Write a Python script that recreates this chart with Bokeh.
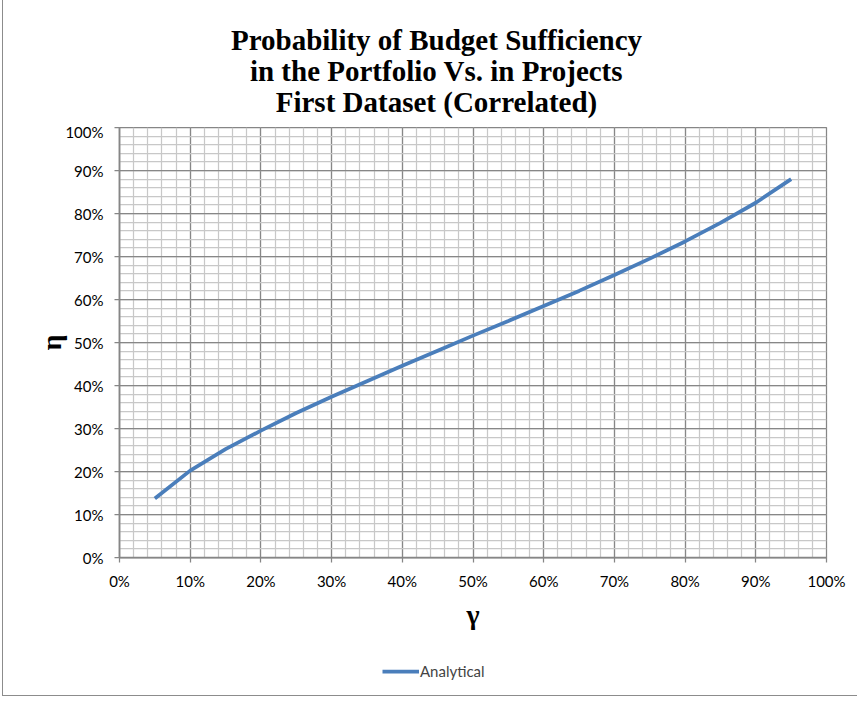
from bokeh.plotting import figure
from bokeh.layouts import column
from bokeh.models import (Range1d, SingleIntervalTicker, NumeralTickFormatter,
                          Label, Legend, LegendItem, ColumnDataSource)
from bokeh.embed import file_html
from bokeh.resources import INLINE

# data (fractions)
gamma = [0.05, 0.10, 0.15, 0.20, 0.25, 0.30, 0.35, 0.40, 0.45, 0.50,
         0.55, 0.60, 0.65, 0.70, 0.75, 0.80, 0.85, 0.90, 0.95]
eta_analytical = [0.137, 0.202, 0.252, 0.295, 0.336, 0.374, 0.410, 0.446, 0.481, 0.516,
                  0.550, 0.585, 0.620, 0.657, 0.695, 0.735, 0.778, 0.825, 0.880]
title_lines = ["Probability of Budget Sufficiency",
               "in the Portfolio Vs. in Projects",
               "First Dataset (Correlated)"]
series_name = "Analytical"
x_title = "γ"
y_title = "η"

serif = "Liberation Serif"
sans = "Lato"
W = 854
LINE_COLOR = "#4a7ebb"
LINE_W = 3.75

src = ColumnDataSource(dict(x=gamma, y=eta_analytical))

# ---- title strip (frame is aligned with the main plot's frame) ---------
tfig = figure(width=W, height=127, output_backend="svg", toolbar_location=None,
              x_axis_type=None, y_axis_type=None, min_border=0,
              x_range=Range1d(0, 1), y_range=Range1d(0, 1))
tfig.title.visible = False
tfig.grid.visible = False
tfig.outline_line_color = None
for t, yy in zip(title_lines, [83, 52, 21]):
    tfig.add_layout(Label(x=317, y=yy, x_units="screen", y_units="screen", text=t,
                          text_align="center", text_baseline="middle",
                          text_font=serif, text_font_size="29px", text_font_style="bold",
                          text_color="black"))

# ---- main plot ---------------------------------------------------------
p = figure(frame_width=707, frame_height=430, output_backend="svg", toolbar_location=None,
           x_range=Range1d(0, 1), y_range=Range1d(0, 1),
           min_border_left=116, min_border_right=31, min_border_top=5, min_border_bottom=90)
p.title.visible = False
p.background_fill_color = "white"
p.border_fill_color = "white"
p.outline_line_color = "#868686"
p.outline_line_width = 1.25

ticker = SingleIntervalTicker(interval=0.1, num_minor_ticks=5)
for ax in (p.xaxis[0], p.yaxis[0]):
    ax.ticker = ticker
    ax.formatter = NumeralTickFormatter(format="0%")
    ax.axis_line_color = "#868686"
    ax.axis_line_width = 1.75
    ax.major_tick_line_color = "#868686"
    ax.major_tick_line_width = 1.25
    ax.major_tick_in = 0
    ax.major_tick_out = 5
    ax.minor_tick_line_color = None
    ax.major_label_text_font = sans
    ax.major_label_text_font_size = "15px"
    ax.major_label_text_color = "black"
    ax.axis_label_text_font = serif
    ax.axis_label_text_font_style = "bold"
    ax.axis_label_text_font_size = "28px"
    ax.axis_label_text_color = "black"

p.xaxis.axis_label = x_title
p.yaxis.axis_label = y_title
p.xaxis.major_label_standoff = 9
p.yaxis.major_label_standoff = 11
p.xaxis.axis_label_standoff = 6
p.yaxis.axis_label_standoff = -5

for g in (p.xgrid[0], p.ygrid[0]):
    g.ticker = ticker
    g.grid_line_color = "#878787"
    g.grid_line_width = 1.25
    g.minor_grid_line_color = "#c8c8c8"
    g.minor_grid_line_width = 1.25

p.line("x", "y", source=src, line_color=LINE_COLOR, line_width=LINE_W)

# ---- legend strip (series drawn outside its range, only the key shows) ----
lfig = figure(width=W, height=48, output_backend="svg", toolbar_location=None,
              x_axis_type=None, y_axis_type=None, min_border=0,
              x_range=Range1d(2, 3), y_range=Range1d(2, 3))
lfig.title.visible = False
lfig.grid.visible = False
lfig.outline_line_color = None
lr = lfig.line("x", "y", source=src, line_color=LINE_COLOR, line_width=LINE_W)
legend = Legend(items=[LegendItem(label=series_name, renderers=[lr])],
                location=(263, 14), orientation="horizontal",
                border_line_color=None, background_fill_alpha=0,
                label_text_font=sans, label_text_font_size="15px",
                glyph_width=37, label_standoff=1, padding=0, margin=0,
                label_height=20, glyph_height=20)
lfig.add_layout(legend, "center")

layout = column(tfig, p, lfig, spacing=0,
                styles={"border": "1px solid #8c8c8c", "border-right": "none",
                        "margin-top": "-6px", "margin-left": "2px"})

open("out.html", "w").write(file_html(layout, INLINE))
